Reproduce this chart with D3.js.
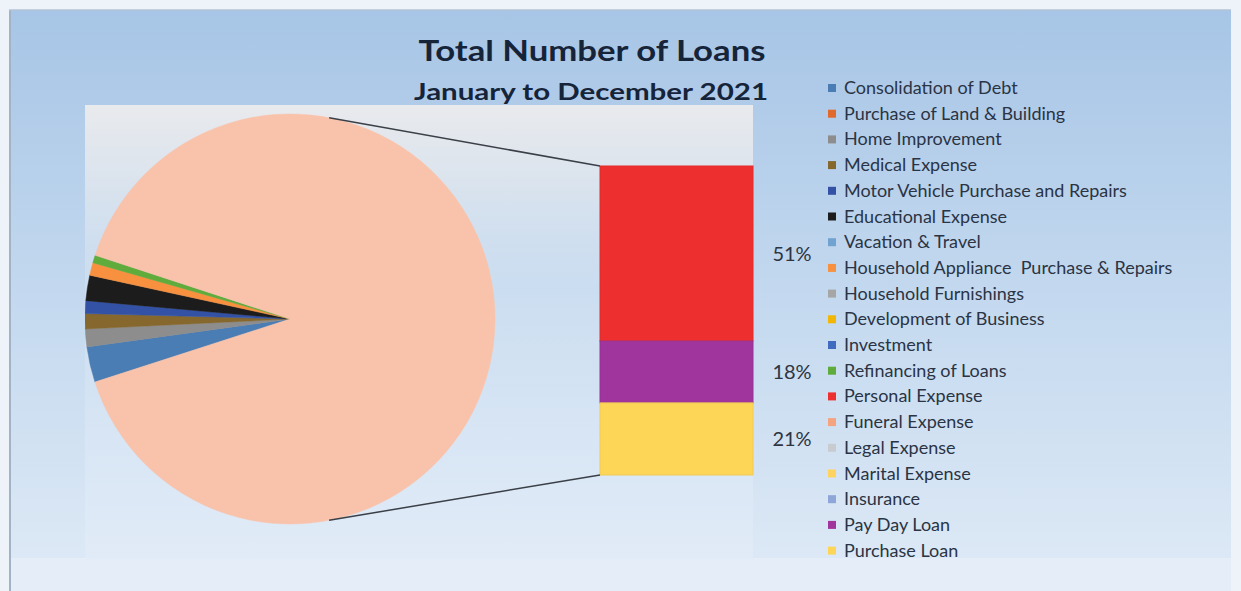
<!DOCTYPE html>
<html>
<head>
<meta charset="utf-8">
<script src="https://cdn.jsdelivr.net/npm/d3@7"></script>
<style>
  html, body { margin: 0; padding: 0; background: #eef3f9; }
  svg { display: block; }
</style>
</head>
<body>
<div id="chart"></div>
<script>
// data +++++++++++++++++++++++++++++++++++++++++
const categories = [
  "Consolidation of Debt", "Purchase of Land & Building", "Home Improvement",
  "Medical Expense", "Motor Vehicle Purchase and Repairs", "Educational Expense",
  "Vacation & Travel", "Household Appliance  Purchase & Repairs", "Household Furnishings",
  "Development of Business", "Investment", "Refinancing of Loans", "Personal Expense",
  "Funeral Expense", "Legal Expense", "Marital Expense", "Insurance", "Pay Day Loan",
  "Purchase Loan"
];
// share of all loans, in percent
const shares = [2.8, 0, 1.4, 1.2, 1.0, 2.0, 0, 1.0, 0, 0, 0, 0.6, 51, 0, 0, 0, 0, 18, 21];
const colors = [
  "#4a7db3", "#e0692c", "#8d8d8d", "#86682f", "#3352a6", "#1c1c1c",
  "#72a2cf", "#f7913f", "#a6a6a6", "#f2b705", "#3f6cbf", "#5fab3c", "#ee2f2f",
  "#f4a47f", "#c8ccd0", "#ffd45e", "#8ea6d8", "#a0359e", "#fdd658"
];
// the points split off into the bar, top to bottom
const barItems = ["Personal Expense", "Pay Day Loan", "Purchase Loan"];
const otherColor = "#f9c2aa";
// data -----------------------------------------

const W = 1241, H = 591;
const svg = d3.select("#chart").append("svg")
  .attr("width", W).attr("height", H);

const defs = svg.append("defs");
const bgGrad = defs.append("linearGradient").attr("id", "bg")
  .attr("x1", 0).attr("y1", 0).attr("x2", 0).attr("y2", 1);
bgGrad.append("stop").attr("offset", "0%").attr("stop-color", "#a7c5e6");
bgGrad.append("stop").attr("offset", "50%").attr("stop-color", "#c4d9ef");
bgGrad.append("stop").attr("offset", "100%").attr("stop-color", "#dfeaf6");

const plotGrad = defs.append("linearGradient").attr("id", "plotbg")
  .attr("x1", 0).attr("y1", 0).attr("x2", 0).attr("y2", 1);
plotGrad.append("stop").attr("offset", "0%").attr("stop-color", "#e9eaed").attr("stop-opacity", 1);
plotGrad.append("stop").attr("offset", "15%").attr("stop-color", "#e3e8ee").attr("stop-opacity", 0.85);
plotGrad.append("stop").attr("offset", "40%").attr("stop-color", "#d3e2f2").attr("stop-opacity", 0.5);
plotGrad.append("stop").attr("offset", "100%").attr("stop-color", "#e2ecf8").attr("stop-opacity", 0.8);

// chart area
svg.append("rect").attr("x", 9).attr("y", 10).attr("width", 1222).attr("height", H - 10)
  .attr("fill", "url(#bg)");
svg.append("rect").attr("x", 9).attr("y", 558).attr("width", 1222).attr("height", H - 558)
  .attr("fill", "#e5eef8");
svg.append("line").attr("x1", 10).attr("x2", 10).attr("y1", 10).attr("y2", H)
  .attr("stroke", "#a3b3c6").attr("stroke-width", 2);
svg.append("line").attr("x1", 9).attr("x2", 1231).attr("y1", 10).attr("y2", 10)
  .attr("stroke", "#b3c3d5").attr("stroke-width", 1.5);

// plot area
const plot = { x: 85, y: 105, w: 668, h: 455 };
svg.append("rect").attr("x", plot.x).attr("y", plot.y).attr("width", plot.w).attr("height", plot.h)
  .attr("fill", "url(#plotbg)");
defs.append("clipPath").attr("id", "plotclip").append("rect")
  .attr("x", plot.x).attr("y", plot.y).attr("width", plot.w).attr("height", plot.h);

// title
svg.append("text").attr("x", 592).attr("y", 61).attr("text-anchor", "middle")
  .attr("font-family", "Lato, 'Open Sans', sans-serif").attr("font-weight", "bold")
  .attr("font-size", 29).attr("fill", "#16243a")
  .attr("textLength", 347).attr("lengthAdjust", "spacingAndGlyphs")
  .text("Total Number of Loans");
svg.append("text").attr("x", 591).attr("y", 100).attr("text-anchor", "middle")
  .attr("font-family", "Lato, 'Open Sans', sans-serif").attr("font-weight", "bold")
  .attr("font-size", 23).attr("fill", "#16243a")
  .attr("textLength", 354).attr("lengthAdjust", "spacingAndGlyphs")
  .text("January to December 2021");

// pie ++++++++++++++++++++++++++++++++++++++++++
const items = categories.map((c, i) => ({ name: c, value: shares[i], color: colors[i] }));
const pieItems = items.filter(d => !barItems.includes(d.name) && d.value > 0);
const otherTotal = d3.sum(items.filter(d => barItems.includes(d.name)), d => d.value);
pieItems.push({ name: "Other", value: otherTotal, color: otherColor });

const cx = 290, cy = 319, R = 205;
const start = 252.1 * Math.PI / 180;
const pie = d3.pie().sort(null).value(d => d.value)
  .startAngle(start).endAngle(start + 2 * Math.PI);
const arc = d3.arc().innerRadius(0).outerRadius(R);

const pieG = svg.append("g").attr("clip-path", "url(#plotclip)")
  .append("g").attr("transform", `translate(${cx},${cy})`);
pieG.selectAll("path").data(pie(pieItems)).enter()
  .append("path")
  .attr("d", arc)
  .attr("fill", d => d.data.color)
  .attr("stroke", d => d.data.color)
  .attr("stroke-width", 0.5);
// pie ------------------------------------------

// bar ++++++++++++++++++++++++++++++++++++++++++
const barData = barItems.map(n => items.find(d => d.name === n));
const y = d3.scaleLinear().domain([0, otherTotal]).range([166, 475]);
const barX = 600, barW = 153;
let acc = 0;
barData.forEach(d => { d.y0 = acc; acc += d.value; d.y1 = acc; });

svg.append("g").selectAll("rect").data(barData).enter()
  .append("rect")
  .attr("x", barX)
  .attr("y", d => y(d.y0))
  .attr("width", barW)
  .attr("height", d => y(d.y1) - y(d.y0))
  .attr("fill", d => d.color)
  .attr("stroke", d => d3.color(d.color).darker(0.15))
  .attr("stroke-width", 1);

svg.append("g").selectAll("text").data(barData).enter()
  .append("text")
  .attr("x", 792)
  .attr("y", d => (y(d.y0) + y(d.y1)) / 2 + 7)
  .attr("text-anchor", "middle")
  .attr("font-family", "Lato, 'Open Sans', sans-serif")
  .attr("font-size", 20)
  .attr("fill", "#2e3440")
  .text(d => d3.format(".0f")(d.value) + "%");
// bar ------------------------------------------

// connector lines from the pie to the bar
const a1 = 11 * Math.PI / 180, a2 = 169 * Math.PI / 180;
const conn = [
  [cx + R * Math.sin(a1), cy - R * Math.cos(a1), barX, y(0)],
  [cx + R * Math.sin(a2), cy - R * Math.cos(a2), barX, y(otherTotal)]
];
svg.append("g").selectAll("line").data(conn).enter()
  .append("line")
  .attr("x1", d => d[0]).attr("y1", d => d[1])
  .attr("x2", d => d[2]).attr("y2", d => d[3])
  .attr("stroke", "#3a3f48").attr("stroke-width", 1.5);

// legend
const legend = svg.append("g").attr("transform", "translate(828,88)");
const rowH = 25.7;
const rows = legend.selectAll("g").data(items).enter()
  .append("g").attr("transform", (d, i) => `translate(0,${i * rowH})`);
rows.append("rect").attr("x", 0).attr("y", -4).attr("width", 8).attr("height", 8)
  .attr("fill", d => d.color);
rows.append("text").attr("x", 16).attr("y", 6)
  .attr("font-family", "Lato, 'Open Sans', sans-serif")
  .attr("font-size", 18).attr("fill", "#2a3444")
  .style("white-space", "pre")
  .text(d => d.name);
</script>
</body>
</html>
